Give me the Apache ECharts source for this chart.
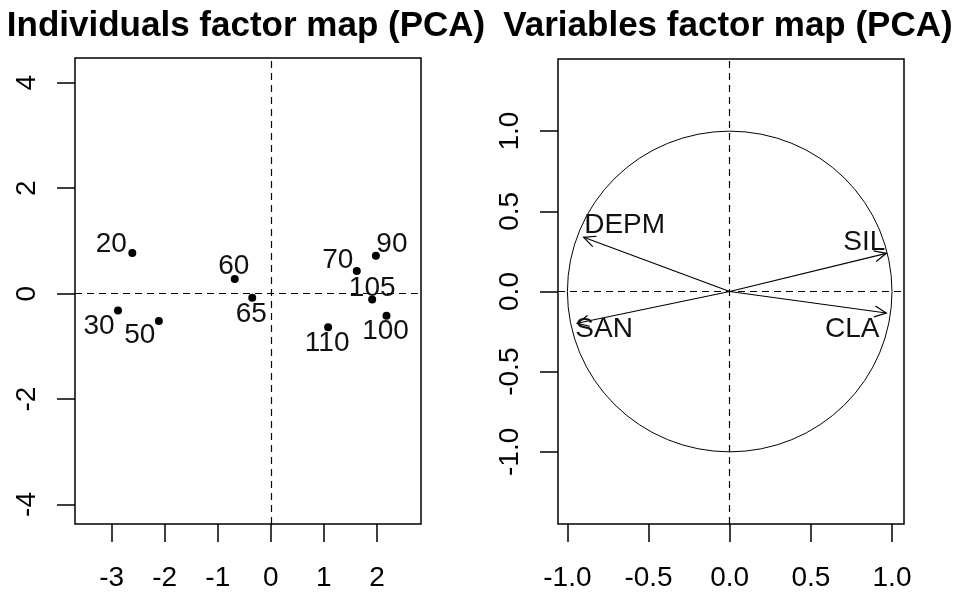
<!DOCTYPE html>
<html>
<head>
<meta charset="utf-8">
<script src="https://cdn.jsdelivr.net/npm/echarts@6/dist/echarts.min.js"></script>
<style>html,body{margin:0;padding:0;background:#fff;}#c{width:954px;height:592px;}</style>
</head>
<body>
<div id="c"></div>
<script>
// ---- data ----
const indNames = ["20","30","50","60","65","70","90","100","105","110"];
const indDim1  = [-2.61,-2.88,-2.11,-0.68,-0.35,1.62,1.98,2.18,1.91,1.08];
const indDim2  = [0.77,-0.32,-0.52,0.28,-0.08,0.43,0.72,-0.42,-0.11,-0.64];
const varNames = ["DEPM","SAN","SIL","CLA"];
const varDim1  = [-0.90,-0.94,0.965,0.965];
const varDim2  = [0.338,-0.198,0.238,-0.134];
const indTicksX = [-3,-2,-1,0,1,2];
const indTicksY = [-4,-2,0,2,4];
const varTicks  = [-1,-0.5,0,0.5,1];
const titles = ["Individuals factor map (PCA)","Variables factor map (PCA)"];

// ---- styling (label offsets in px) ----
const indLabelOffset = [[-21,-9],[-19,16],[-19,14],[-1,-13],[-1,16],[-19,-11],[16,-11],[-1,16],[0,-11],[-1,16]];
const varLabelOffset = [[41,-12],[27,6],[-22,-11],[-34,16]];
const FONT = "'Liberation Sans', Arial, sans-serif";
const FS = 28;

const chart = echarts.init(document.getElementById('c'), null, {renderer:'canvas'});

function xAxisCfg(gi, min, max, ticks, fmt){
  return {
    gridIndex: gi, type:'value', min:min, max:max,
    axisLine:{show:false, onZero:false}, splitLine:{show:false},
    axisTick:{show:true, customValues:ticks, length:18, inside:false, lineStyle:{color:'#000', width:1.5}},
    axisLabel:{show:true, customValues:ticks, margin:40, color:'#000', fontSize:FS, fontFamily:FONT, formatter:fmt}
  };
}
function yAxisCfg(gi, min, max, ticks, fmt){
  return {
    gridIndex: gi, type:'value', min:min, max:max,
    axisLine:{show:false, onZero:false}, splitLine:{show:false},
    axisTick:{show:true, customValues:ticks, length:18, inside:false, lineStyle:{color:'#000', width:1.5}},
    axisLabel:{show:true, customValues:ticks, margin:34, rotate:90, color:'#000', fontSize:FS, fontFamily:FONT, formatter:fmt}
  };
}
const fmtInt = v => String(Math.round(v));
const fmt1 = v => v.toFixed(1);

const zeroLines = {
  silent:true, symbol:['none','none'], label:{show:false},
  lineStyle:{type:[7,5], color:'#000', width:1.2},
  emphasis:{disabled:true},
  data:[{xAxis:0},{yAxis:0}]
};

chart.setOption({
  animation:false,
  backgroundColor:'#fff',
  title:[
    {text:titles[0], left:241, top:4, textAlign:'center', textStyle:{fontSize:35, fontWeight:'bold', fontFamily:FONT, color:'#000'}},
    {text:titles[1], left:723, top:4, textAlign:'center', textStyle:{fontSize:35, fontWeight:'bold', fontFamily:FONT, color:'#000'}}
  ],
  grid:[
    {left:75, top:58, width:346, height:468, show:true, borderColor:'#000', borderWidth:1.5, backgroundColor:'transparent', containLabel:false},
    {left:558, top:59, width:346, height:467, show:true, borderColor:'#000', borderWidth:1.5, backgroundColor:'transparent', containLabel:false}
  ],
  xAxis:[
    xAxisCfg(0, -3.69, 2.83, indTicksX, fmtInt),
    xAxisCfg(1, -1.058, 1.074, varTicks, fmt1)
  ],
  yAxis:[
    yAxisCfg(0, -4.37, 4.47, indTicksY, fmtInt),
    yAxisCfg(1, -1.45, 1.45, varTicks, fmt1)
  ],
  series:[
    {
      type:'scatter', xAxisIndex:0, yAxisIndex:0, symbol:'circle', symbolSize:8,
      itemStyle:{color:'#000', opacity:1}, silent:true,
      data: indNames.map((n,i)=>({name:n, value:[indDim1[i], indDim2[i]],
        label:{offset:indLabelOffset[i]}})),
      label:{show:true, position:'inside', formatter:p=>p.name, color:'#111', fontSize:FS, fontFamily:FONT, align:'center', verticalAlign:'middle'},
      markLine: zeroLines
    },
    {
      type:'custom', xAxisIndex:1, yAxisIndex:1, silent:true, clip:false,
      data:[[0,0,1]],
      renderItem:function(params, api){
        const c = api.coord([api.value(0), api.value(1)]);
        const s = api.size([api.value(2), api.value(2)]);
        return {type:'circle', x:c[0], y:c[1], scaleY:s[1]/s[0],
          shape:{cx:0, cy:0, r:s[0]}, style:{fill:null, stroke:'#000', lineWidth:1}};
      },
      markLine: zeroLines
    },
    {
      type:'custom', xAxisIndex:1, yAxisIndex:1, silent:true, clip:false,
      data: varNames.map((n,i)=>[varDim1[i], varDim2[i]]),
      renderItem:function(params, api){
        const i = params.dataIndex;
        const o = api.coord([0,0]);
        const p = api.coord([api.value(0), api.value(1)]);
        const ang = Math.atan2(p[1]-o[1], p[0]-o[0]);
        const L = 13, a = 25*Math.PI/180;
        const h1 = [p[0]-L*Math.cos(ang-a), p[1]-L*Math.sin(ang-a)];
        const h2 = [p[0]-L*Math.cos(ang+a), p[1]-L*Math.sin(ang+a)];
        const off = varLabelOffset[i];
        return {type:'group', children:[
          {type:'line', shape:{x1:o[0], y1:o[1], x2:p[0], y2:p[1]}, style:{stroke:'#000', lineWidth:1.2}},
          {type:'polyline', shape:{points:[h1,p,h2]}, style:{stroke:'#000', fill:null, lineWidth:1.2}},
          {type:'text', x:p[0]+off[0], y:p[1]+off[1], style:{text:varNames[i], fontSize:FS, fontFamily:FONT, fill:'#111', align:'center', verticalAlign:'middle'}}
        ]};
      }
    }
  ]
});
</script>
</body>
</html>
